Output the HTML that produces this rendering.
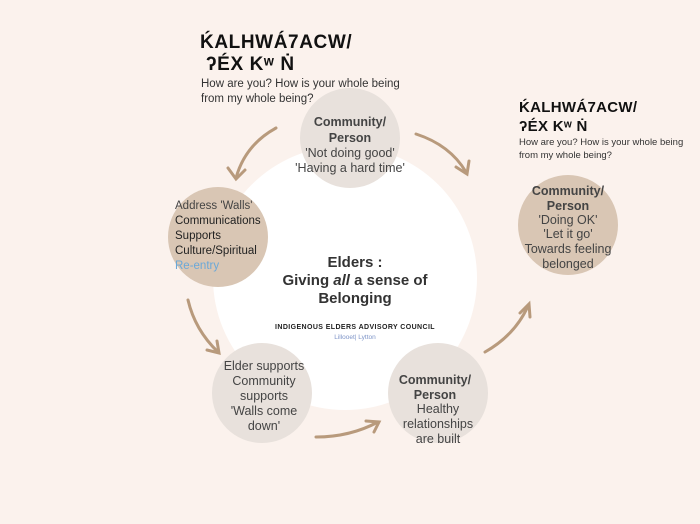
<!DOCTYPE html>
<html><head><meta charset="utf-8"><style>
html,body{margin:0;padding:0;background:#fbf2ed;}
svg{display:block}
text{font-family:"Liberation Sans",sans-serif;}
</style></head><body>
<svg width="700" height="524" viewBox="0 0 700 524" xmlns="http://www.w3.org/2000/svg">
<rect width="700" height="524" fill="#fbf2ed"/>
<circle cx="345" cy="278" r="132" fill="#ffffff"/>
<circle cx="350" cy="138" r="50" fill="#e8e1dc"/>
<circle cx="218" cy="237" r="50" fill="#d9c6b4"/>
<circle cx="568" cy="225" r="50" fill="#d9c6b4"/>
<circle cx="262" cy="393" r="50" fill="#e8e1dc"/>
<circle cx="438" cy="393" r="50" fill="#e8e1dc"/>
<g fill="none" stroke="#b89a7c" stroke-width="3" stroke-linecap="round">
<path d="M276 128 Q245 145 236 178"/><path d="M228 168 L236 179 L245 170"/>
<path d="M416 134 Q450 145 466 172"/><path d="M456 167 L467 174 L469 161"/>
<path d="M188 300 Q195 330 218 352"/><path d="M207 350 L219 353 L217 341"/>
<path d="M316 437 Q350 437 378 422"/><path d="M366 421 L379 422 L374 432"/>
<path d="M485 352 Q515 335 528 306"/><path d="M520 313 L529 304 L530 317"/>
</g>
<g fill="#111">
<text x="200" y="48" font-size="19" font-weight="bold" letter-spacing="0.6">ḰALHWÁ7ACW/</text>
<text x="206" y="70" font-size="19" font-weight="bold" letter-spacing="0.6">ʔÉX Kʷ Ṅ</text>
<text x="201" y="87" font-size="11.5" fill="#333">How are you? How is your whole being</text>
<text x="201" y="102" font-size="11.5" fill="#333">from my whole being?</text>
<text x="519" y="112" font-size="15" font-weight="bold" letter-spacing="0.3">ḰALHWÁ7ACW/</text>
<text x="519" y="131" font-size="15" font-weight="bold" letter-spacing="0.3">ʔÉX Kʷ Ṅ</text>
<text x="519" y="145" font-size="9.5" fill="#333">How are you? How is your whole being</text>
<text x="519" y="158" font-size="9.5" fill="#333">from my whole being?</text>
</g>
<g text-anchor="middle" fill="#444" font-size="12.5">
<text x="350" y="126" font-weight="bold" font-size="12.5">Community/</text>
<text x="350" y="142" font-weight="bold">Person</text>
<text x="350" y="157">'Not doing good'</text>
<text x="350" y="172">'Having a hard time'</text>

<text x="568" y="195" font-weight="bold">Community/</text>
<text x="568" y="210" font-weight="bold">Person</text>
<text x="568" y="224">'Doing OK'</text>
<text x="568" y="238">'Let it go'</text>
<text x="568" y="253">Towards feeling</text>
<text x="568" y="268">belonged</text>

<text x="435" y="384" font-weight="bold">Community/</text>
<text x="435" y="399" font-weight="bold">Person</text>
<text x="438" y="413">Healthy</text>
<text x="438" y="428">relationships</text>
<text x="438" y="443">are built</text>

<text x="264" y="370">Elder supports</text>
<text x="264" y="385">Community</text>
<text x="264" y="400">supports</text>
<text x="264" y="415">'Walls come</text>
<text x="264" y="430">down'</text>

<text x="355" y="267" font-size="15" font-weight="bold" fill="#333">Elders :</text>
<text x="355" y="285" font-size="15" font-weight="bold" fill="#333">Giving <tspan font-style="italic">all</tspan> a sense of</text>
<text x="355" y="303" font-size="15" font-weight="bold" fill="#333">Belonging</text>
<text x="355" y="329" font-size="7" font-weight="bold" fill="#222" letter-spacing="0.4">INDIGENOUS ELDERS ADVISORY COUNCIL</text>
<text x="355" y="339" font-size="6.5" fill="#7f95c8">Lillooet| Lytton</text>
</g>
<g font-size="11.5" fill="#222">
<text x="175" y="209" fill="#444">Address 'Walls'</text>
<text x="175" y="224">Communications</text>
<text x="175" y="239">Supports</text>
<text x="175" y="254">Culture/Spiritual</text>
<text x="175" y="269" fill="#6aa8d8">Re-entry</text>
</g>
</svg>
</body></html>
